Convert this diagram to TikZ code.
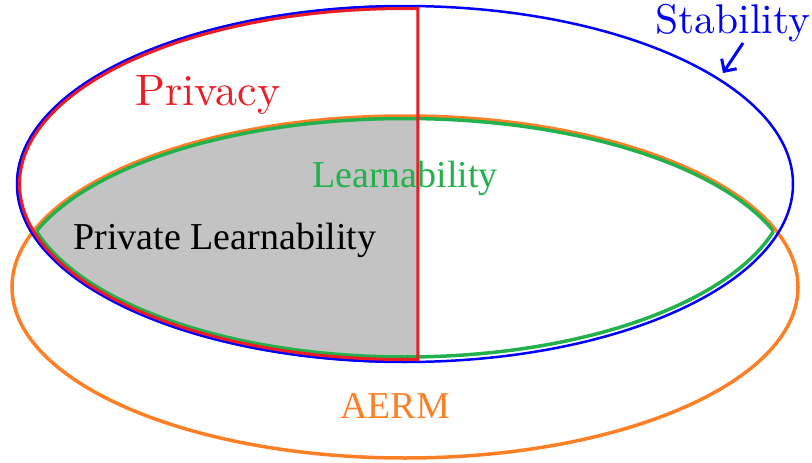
\documentclass[tikz,border=0pt]{standalone}
\usepackage{fontspec}
\newfontfamily\timesfont{Liberation Serif}
\newfontfamily\cmfont{lmroman10-regular.otf}
\usetikzlibrary{arrows.meta}
\definecolor{privred}{HTML}{ED1C24}
\definecolor{stabblue}{HTML}{0000FF}
\definecolor{aermorange}{HTML}{FF7F27}
\definecolor{learngreen}{HTML}{22B14C}
\definecolor{lensgray}{HTML}{C3C3C3}

\begin{document}
\begin{tikzpicture}[x=1pt, y=-1pt,
  cmtext/.style={anchor=base, inner sep=0pt, font=\cmfont\fontsize{41.5}{48}\selectfont},
  tmtext/.style={anchor=base, inner sep=0pt, font=\timesfont\fontsize{38}{44}\selectfont}]
  \useasboundingbox (0,0) rectangle (812,463);

  % shaded part
  \begin{scope}
    \clip (405,287) ellipse [x radius=393, y radius=171];
    \clip (405,184) ellipse [x radius=388, y radius=178];
    \fill [lensgray] (0,0) rectangle (418,463);
  \end{scope}

  \draw [aermorange, line width=3.5pt] (405,287) ellipse [x radius=393, y radius=171];
  \draw [stabblue, line width=2.5pt] (405,184) ellipse [x radius=388, y radius=178];
  \draw [stabblue, line width=4pt] (405,184) ++(88.07:387 and 177)
    arc [start angle=88.07, end angle=271.93, x radius=387, y radius=177];

  % green lens
  \begin{scope}
    \clip (405,184) ellipse [x radius=383, y radius=173];
    \draw [learngreen, line width=3.5pt] (405,287) ellipse [x radius=390.5, y radius=168.5];
  \end{scope}
  \begin{scope}
    \clip (405,287) ellipse [x radius=390.5, y radius=168.5];
    \draw [learngreen, line width=3.5pt] (405,184) ellipse [x radius=383, y radius=173];
  \end{scope}

  % red half
  \draw [privred, line width=3pt] (405,184) ++(88.07:385.5 and 175.5)
    arc [start angle=88.07, end angle=271.93, x radius=385.5, y radius=175.5] -- cycle;

  \node (privacy) [cmtext, privred, font=\cmfont\fontsize{44}{50}\selectfont] at (208,105) {Privacy};
  \node (stability) [cmtext, stabblue] at (733,33) {Stability};
  \node (learn) [tmtext, learngreen] at (405,187) {Learnability};
  \node (privlearn) [tmtext] at (225,249) {Private Learnability};
  \node (aerm) [tmtext, aermorange] at (395,418) {AERM};

  \coordinate (arrowtail) at (743,43);
  \coordinate (arrowhead) at (723,73);
  \draw [stabblue, line width=3pt, -{Straight Barb[length=9pt, width=18pt]}] (arrowtail) -- (arrowhead);
\end{tikzpicture}
\end{document}
